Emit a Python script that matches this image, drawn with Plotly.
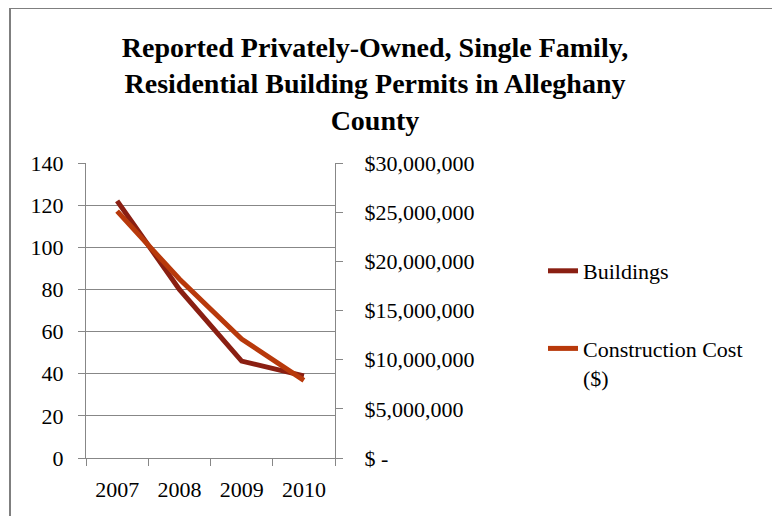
import plotly.graph_objects as go

years = ["2007", "2008", "2009", "2010"]
buildings = [122, 80, 46, 39]
construction_cost = [25_100_000, 18_200_000, 12_100_000, 7_900_000]

left_tick_vals = [0, 20, 40, 60, 80, 100, 120, 140]
cost_tick_vals = [0, 5_000_000, 10_000_000, 15_000_000, 20_000_000, 25_000_000, 30_000_000]
cost_tick_text = ["$ -", "$5,000,000", "$10,000,000", "$15,000,000",
                  "$20,000,000", "$25,000,000", "$30,000,000"]

title_text = ("Reported Privately-Owned, Single Family,<br>"
              "Residential Building Permits in Alleghany<br>County")

W, H = 780, 516
OFF = 8  # page body margin
# plot area in screen pixels
PL, PR, PT, PB = 86, 335, 163, 458
pw, ph = PR - PL, PB - PT

def px_x(p):
    return (p - PL) / pw

def px_y(p):
    return (PB - p) / ph

FONT = "Liberation Serif"
GRID = "#878787"

fig = go.Figure()
fig.add_trace(go.Scatter(
    x=years, y=buildings, name="Buildings", mode="lines",
    line=dict(color="#8A1F12", width=5), legendgroup="a"))
fig.add_trace(go.Scatter(
    x=years, y=construction_cost, name="Construction Cost<br>($)", mode="lines",
    line=dict(color="#B8390B", width=5), yaxis="y2", legendgroup="b"))

fig.update_layout(
    width=W, height=H,
    margin=dict(l=PL - OFF, r=W - (PR - OFF), t=PT - OFF, b=H - (PB - OFF), pad=0),
    paper_bgcolor="white", plot_bgcolor="white",
    font=dict(family=FONT, size=22, color="black"),
    title=dict(text=title_text, x=367 / W, xanchor="center",
               y=1 - 49 / H, yanchor="top", yref="container",
               font=dict(family=FONT, size=28, color="black", weight="bold")),
    xaxis=dict(type="category", range=[-0.5, 3.5], tickson="boundaries",
               ticks="outside", ticklen=7, tickcolor=GRID, tickwidth=1.3,
               showline=True, linecolor=GRID, linewidth=1.3,
               showgrid=False, ticklabelstandoff=11,
               tickfont=dict(family=FONT, size=22)),
    yaxis=dict(range=[0, 140], tickvals=left_tick_vals,
               showgrid=True, gridcolor=GRID, gridwidth=1.3,
               showline=True, linecolor=GRID, linewidth=1.3,
               ticks="outside", ticklen=7, tickcolor=GRID, tickwidth=1.3,
               zeroline=False, ticklabelstandoff=10,
               tickfont=dict(family=FONT, size=22)),
    yaxis2=dict(range=[0, 30_000_000], tickvals=cost_tick_vals, ticktext=cost_tick_text,
                overlaying="y", side="right", showgrid=False,
                showline=True, linecolor=GRID, linewidth=1.3,
                ticks="outside", ticklen=7, tickcolor=GRID, tickwidth=1.3,
                zeroline=False, ticklabelstandoff=17,
                tickfont=dict(family=FONT, size=22)),
    legend=dict(x=px_x(543), xanchor="left", y=px_y(250), yanchor="top",
                font=dict(family=FONT, size=22), valign="top",
                tracegroupgap=46, bgcolor="rgba(0,0,0,0)"),
    showlegend=True,
)

fig.add_shape(type="line", xref="paper", yref="paper",
              x0=px_x(10), x1=px_x(800), y0=px_y(8), y1=px_y(8),
              line=dict(color="#7f7f7f", width=2))
fig.add_shape(type="line", xref="paper", yref="paper",
              x0=px_x(10), x1=px_x(10), y0=px_y(8), y1=px_y(540),
              line=dict(color="#7f7f7f", width=2))

fig.write_html("out.html")
